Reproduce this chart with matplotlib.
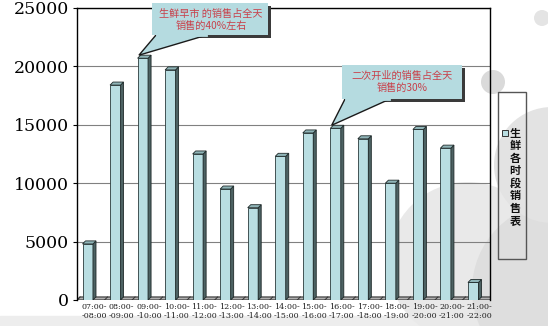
import matplotlib
matplotlib.use('Agg')
import matplotlib.pyplot as plt
from matplotlib.patches import Circle, Rectangle, Polygon

plt.rcParams['font.family'] = ['Noto Sans CJK SC', 'DejaVu Sans']

# data
slots_start = ['07:00', '08:00', '09:00', '10:00', '11:00', '12:00', '13:00', '14:00',
               '15:00', '16:00', '17:00', '18:00', '19:00', '20:00', '21:00']
slots_end = ['08:00', '09:00', '10:00', '11:00', '12:00', '13:00', '14:00', '15:00',
             '16:00', '17:00', '18:00', '19:00', '20:00', '21:00', '22:00']
sales = [4800, 18400, 20700, 19700, 12500, 9500, 7900, 12300,
         14300, 14700, 13800, 10000, 14600, 13000, 1500]
yticks = [0, 5000, 10000, 15000, 20000, 25000]
legend_label = '生鲜各时段销售表'
note1 = '生鲜早市 的销售占全天\n销售的40%左右'
note2 = '二次开业的销售占全天\n销售的30%'

W, H = 548, 326
fig = plt.figure(figsize=(W / 100, H / 100), dpi=100)
fig.patch.set_facecolor('white')

# background slide decoration (pixel coords)
bg = fig.add_axes([0, 0, 1, 1], zorder=0)
bg.set_xlim(0, W)
bg.set_ylim(H, 0)
bg.axis('off')
bg.add_patch(Rectangle((0, 316), W, 10, color='#ededed'))
for (cx, cy, r, c) in [(468, 262, 80, '#e9e9e9'), (560, 290, 88, '#dedede'),
                       (552, 165, 58, '#e3e3e3'), (493, 82, 12, '#dadada'),
                       (542, 18, 8, '#e4e4e4')]:
    bg.add_patch(Circle((cx, cy), r, color=c, lw=0))

# main chart
ax = fig.add_axes([77 / W, (H - 300) / H, 413 / W, 292 / H], zorder=1)
ax.patch.set_alpha(0)
n = len(sales)
ax.set_xlim(-0.5, n - 0.5)
ax.set_ylim(0, 25000)
ax.set_yticks(yticks)
ax.set_yticklabels([str(t) for t in yticks], family='DejaVu Serif', fontsize=12.5)
ax.tick_params(axis='y', length=3, width=0.8, pad=3)
ax.set_xticks([i + 0.12 for i in range(n)])
ax.set_xticklabels(['%s-\n-%s' % (a, b) for a, b in zip(slots_start, slots_end)],
                   family='DejaVu Serif', fontsize=5.8, linespacing=1.25, color='#222222')
ax.tick_params(axis='x', length=0, pad=2)
for s in ['top', 'right']:
    ax.spines[s].set_linewidth(1.0)
ax.spines['bottom'].set_visible(False)
ax.spines['left'].set_linewidth(1.0)
ax.grid(axis='y', color='#808080', lw=0.8)
ax.set_axisbelow(True)

dx, dy = 0.11, 260
w = 0.38
xs = [i - 0.3 for i in range(n)]

# floor
ax.add_patch(Polygon([(-0.5, 0), (n - 0.5, 0), (n - 0.5 + dx, dy), (-0.5 + dx, dy)],
                     closed=True, facecolor='#b0b0b0', edgecolor='#333333', lw=0.8, zorder=2))
for i in range(n + 1):
    ax.plot([i - 0.5, i - 0.5 + dx], [0, dy], color='#333333', lw=0.7, zorder=2)

ax.bar(xs, sales, width=w, align='edge', color='#b9dee2', edgecolor='#2a3a3b', lw=0.6, zorder=3)
for x, v in zip(xs, sales):
    ax.add_patch(Polygon([(x + w, 0), (x + w + dx, dy), (x + w + dx, v + dy), (x + w, v)],
                         closed=True, facecolor='#4d6263', edgecolor='#1f2a2a', lw=0.6, zorder=3))
    ax.add_patch(Polygon([(x, v), (x + dx, v + dy), (x + w + dx, v + dy), (x + w, v)],
                         closed=True, facecolor='#8fb4b7', edgecolor='#1f2a2a', lw=0.6, zorder=3))

# overlay for callouts and legend (pixel coords)
ov = fig.add_axes([0, 0, 1, 1], zorder=2)
ov.set_xlim(0, W)
ov.set_ylim(H, 0)
ov.axis('off')
ov.patch.set_alpha(0)


def to_px(x, y):
    dxp, dyp = ax.transData.transform((x, y))
    return dxp, H - dyp


def callout(x0, y0, x1, y1, base0, base1, tip, text, tx, ty):
    sh = 2.5
    ov.add_patch(Rectangle((x0 + sh, y0 + sh), x1 - x0, y1 - y0, color='#3a3a3a', lw=0))
    ov.add_patch(Polygon([(base0, y1), (base1, y1), tip], closed=True,
                         facecolor='#b5dbe0', edgecolor='#1a1a1a', lw=1.0))
    ov.add_patch(Rectangle((x0, y0), x1 - x0, y1 - y0, color='#b5dbe0', lw=0))
    ov.plot([base0 + 1, base1 - 1], [y1 - 0.5, y1 - 0.5], color='#b5dbe0', lw=2)
    ov.text(tx, ty, text, ha='center', va='center', fontsize=7.3, color='#c8404a',
            linespacing=1.2)


b1 = to_px(xs[2] + 0.05, sales[2] + dy)
callout(152, 3, 268, 35, 156, 207, b1, note1, 211, 20)
b2 = to_px(xs[9] + 0.05, sales[9] + dy)
callout(342, 65, 462, 99, 345, 390, b2, note2, 402, 82)

# legend
ov.add_patch(Rectangle((498, 92), 28, 167, facecolor='none', edgecolor='#555555', lw=1.0))
ov.add_patch(Rectangle((502, 130), 6, 6, facecolor='#b9dee2', edgecolor='#333333', lw=0.7))
for k, ch in enumerate(legend_label):
    ov.text(515, 133 + k * 12.6, ch, ha='center', va='center', fontsize=8,
            fontweight='bold', color='#111111')

fig.savefig('out.png', dpi=100)
